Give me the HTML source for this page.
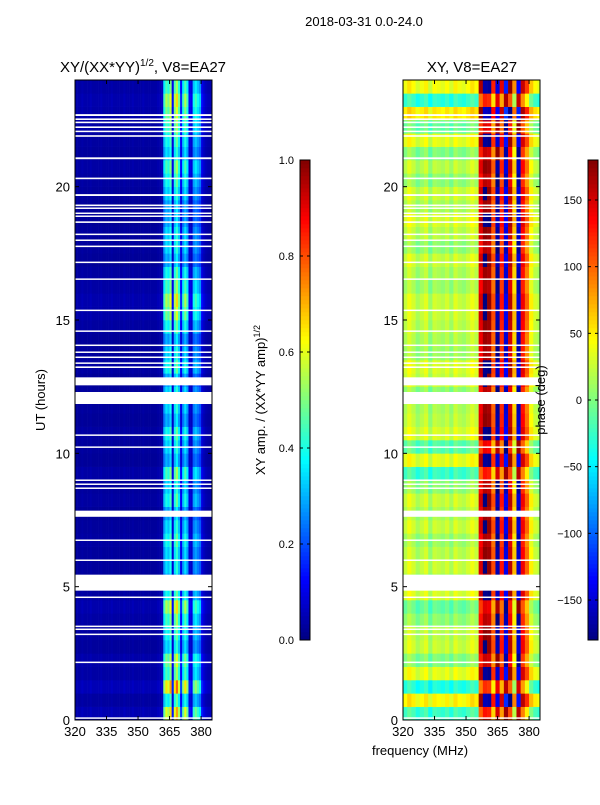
<!DOCTYPE html>
<html><head><meta charset="utf-8"><style>
body{margin:0;background:#fff;font-family:"Liberation Sans",sans-serif;}
svg text{font-family:"Liberation Sans",sans-serif;font-size:13px;fill:#000;}
</style></head><body>
<svg id="c" width="600" height="800" xmlns="http://www.w3.org/2000/svg">
<text x="364" y="26" text-anchor="middle">2018-03-31 0.0-24.0</text>
<g id="left"></g>
<g id="right"></g>
<text x="143" y="72" text-anchor="middle" style="font-size:15px">XY/(XX*YY)<tspan dy="-6" style="font-size:10px">1/2</tspan><tspan dy="6">, V8=EA27</tspan></text>
<text x="472" y="72" text-anchor="middle" style="font-size:15px">XY, V8=EA27</text>
<text transform="translate(45,400) rotate(-90)" text-anchor="middle">UT (hours)</text>
<text x="420" y="755" text-anchor="middle">frequency (MHz)</text>
<text transform="translate(265,400) rotate(-90)" text-anchor="middle">XY amp. / (XX*YY amp)<tspan dy="-5" style="font-size:9px">1/2</tspan></text>
<text transform="translate(545,400) rotate(-90)" text-anchor="middle">phase (deg)</text>
</svg>
<script>
const freqStart=320, freqEnd=385.2, hourTop=24.0;
const xTicks=[320,335,350,365,380];
const yTicks=[0,5,10,15,20];
const ampTicks=[0.0,0.2,0.4,0.6,0.8,1.0];
const phaseTicks=[-150,-100,-50,0,50,100,150];
// amplitude per 1 MHz bin (320..384)
const ampCols=[0.04,0.04,0.04,0.05,0.04,0.04,0.04,0.05,0.04,0.04,0.04,0.04,0.05,0.04,0.04,0.04,0.04,0.05,0.04,0.04,0.04,0.04,0.04,0.05,0.04,0.04,0.04,0.05,0.04,0.04,0.04,0.04,0.05,0.04,0.04,0.04,0.04,0.04,0.04,0.05,0.05,0.06,0.4,0.5,0.45,0.55,0.12,0.5,0.6,0.45,0.15,0.4,0.5,0.4,0.12,0.1,0.35,0.4,0.35,0.3,0.12,0.08,0.06,0.05,0.05];
// row factor per half hour (0..24h)
const ampRows=[1.2,0.8,1.3,0.9,1.0,0.7,0.8,0.9,1.1,0.8,0.6,0.7,0.7,0.8,0.7,0.6,0.8,0.7,0.9,0.6,0.7,0.8,0.6,0.7,0.7,0.6,0.8,0.7,0.6,0.8,1.0,1.1,0.9,0.8,0.6,0.7,0.7,0.6,0.6,0.7,0.8,0.9,0.7,0.8,0.9,1.0,1.1,0.9];
// phase per 2 MHz bin (320..384)
const phaseCols=[15,30,20,5,15,25,0,20,15,10,20,5,25,15,10,20,30,20,140,170,165,100,-170,120,-150,150,60,-160,130,90,40,20,10];
// phase shift per half hour
const phaseRows=[-40,30,-50,20,-15,10,5,-10,-25,15,0,10,5,-5,10,0,10,-10,-40,20,-30,15,5,0,-10,10,15,-5,0,5,10,10,-5,0,10,-10,5,15,0,10,-10,5,-15,20,-25,35,-45,25];
// white gap lines (hours)
const gaps=[[22.65,22.72],[22.5,22.56],[22.38,22.44],[22.2,22.26],[22.05,22.1],[21.87,21.93],[21.03,21.1],[20.28,20.34],[19.65,19.72],[19.27,19.33],[19.17,19.22],[18.98,19.03],[18.87,18.92],[18.64,18.7],[18.19,18.24],[17.97,18.02],[17.74,17.79],[17.14,17.19],[16.51,16.56],[15.34,15.39],[14.56,14.61],[14.03,14.08],[13.77,13.82],[13.58,13.63],[13.36,13.41],[13.2,13.26],[12.55,12.85],[11.85,12.3],[10.66,10.71],[10.21,10.26],[8.97,9.02],[8.82,8.87],[8.67,8.72],[7.62,7.85],[6.72,6.77],[5.97,6.02],[4.85,5.45],[4.58,4.63],[3.49,3.54],[3.38,3.43],[3.19,3.24],[2.14,2.19],[0.05,0.1]];

function jet(v){v=Math.max(0,Math.min(1,v));
 const r=Math.max(0,Math.min(1,1.5-Math.abs(4*v-3))),g=Math.max(0,Math.min(1,1.5-Math.abs(4*v-2))),b=Math.max(0,Math.min(1,1.5-Math.abs(4*v-1)));
 return `rgb(${Math.round(r*255)},${Math.round(g*255)},${Math.round(b*255)})`;}
const NS="http://www.w3.org/2000/svg";
function el(p,t,a){const e=document.createElementNS(NS,t);for(const k in a)e.setAttribute(k,a[k]);p.appendChild(e);return e;}
const PT=80,PB=720;
function yS(h){return PB-(h/hourTop)*(PB-PT);}
function panel(gid,x0,x1,cols,colW,rows,valFn){
 const g=document.getElementById(gid);
 const xS=f=>x0+(f-freqStart)/(freqEnd-freqStart)*(x1-x0);
 rows.forEach((rv,ri)=>{cols.forEach((cv,ci)=>{
  const f=freqStart+ci*colW;const xa=xS(f),xb=Math.min(x1,xS(f+colW));
  const ya=yS((ri+1)*0.5),yb=yS(ri*0.5);
  const r=el(g,'rect',{x:xa,y:ya,width:xb-xa+0.3,height:yb-ya+0.3,fill:jet(valFn(cv,rv))});
  
  
 });});
 gaps.forEach(gp=>{const r=el(g,'rect',{x:x0,y:yS(gp[1]),width:x1-x0,height:Math.max(1.5,yS(gp[0])-yS(gp[1])),fill:'#fff'});
  
  });
 el(g,'rect',{x:x0,y:PT,width:x1-x0,height:PB-PT,fill:'none',stroke:'#000','stroke-width':1});
 xTicks.forEach(t=>{const x=xS(t);el(g,'line',{x1:x,x2:x,y1:PB,y2:PB-4,stroke:'#000'});el(g,'line',{x1:x,x2:x,y1:PT,y2:PT+4,stroke:'#000'});
  const tx=el(g,'text',{x:x,y:PB+16,'text-anchor':'middle'});tx.textContent=t;
  
  });
 yTicks.forEach(t=>{const y=yS(t);el(g,'line',{x1:x0,x2:x0+4,y1:y,y2:y,stroke:'#000'});el(g,'line',{x1:x1,x2:x1-4,y1:y,y2:y,stroke:'#000'});
  const tx=el(g,'text',{x:x0-5,y:y+5,'text-anchor':'end'});tx.textContent=t;
  
  });
}
panel('left',75,212,ampCols,1,ampRows,(c,r)=>c*r);
panel('right',403,540,phaseCols,2,phaseRows,(c,r)=>{let p=c+r;p=((p+180)%360+360)%360-180;return (p+180)/360;});

function cbar(x,ticks,lo,hi,name){
 const svg=document.getElementById('c');const g=el(svg,'g',{});
 
 
 const y0=160,y1=640;
 for(let i=0;i<120;i++){el(g,'rect',{x:x,y:y1-(i+1)*4,width:10,height:4.3,fill:jet((i+0.5)/120)});}
 el(g,'rect',{x:x,y:y0,width:10,height:y1-y0,fill:'none',stroke:'#000'});
 ticks.forEach(t=>{const y=y1-(t-lo)/(hi-lo)*(y1-y0);
  el(g,'line',{x1:x,x2:x+3,y1:y,y2:y,stroke:'#000'});el(g,'line',{x1:x+10,x2:x+7,y1:y,y2:y,stroke:'#000'});
  const tx=el(g,'text',{x:x-6,y:y+4,'text-anchor':'end',style:'font-size:11px'});tx.textContent=(lo===0?t.toFixed(1):(t<0?'\u2212'+(-t):t));
  
  });
}
cbar(300,ampTicks,0,1,'amplitude-colorbar');
cbar(588,phaseTicks,-180,180,'phase-colorbar');
</script>
</body></html>
